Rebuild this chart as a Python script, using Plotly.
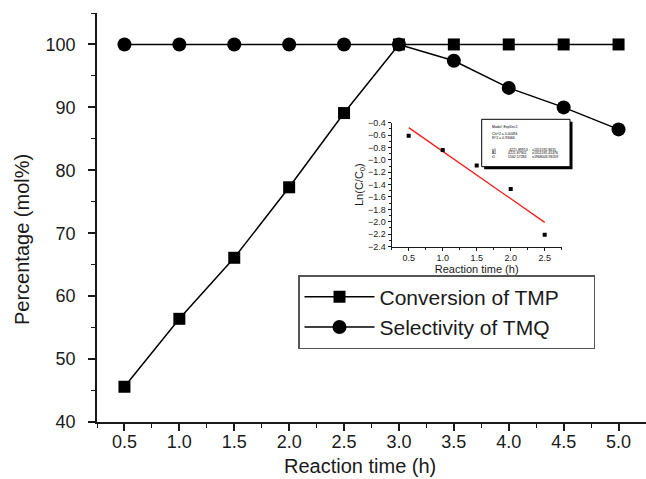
import plotly.graph_objects as go

# ---- main chart data ----
time_h = [0.5, 1.0, 1.5, 2.0, 2.5, 3.0, 3.5, 4.0, 4.5, 5.0]
conversion_tmp = [45.6, 56.4, 66.1, 77.3, 89.1, 100, 100, 100, 100, 100]
selectivity_tmq = [100, 100, 100, 100, 100, 100, 97.4, 93.1, 90.0, 86.5]
x_ticks = [0.5, 1.0, 1.5, 2.0, 2.5, 3.0, 3.5, 4.0, 4.5, 5.0]
x_tick_labels = ["0.5", "1.0", "1.5", "2.0", "2.5", "3.0", "3.5", "4.0", "4.5", "5.0"]
y_ticks = [40, 50, 60, 70, 80, 90, 100]
series_names = ["Conversion of TMP", "Selectivity of TMQ"]

# ---- inset data ----
inset_time = [0.5, 1.0, 1.5, 2.0, 2.5]
inset_ln = [-0.61, -0.84, -1.09, -1.47, -2.21]
fit_time = [0.5, 2.5]
fit_ln = [-0.48, -2.01]
inset_x_ticks = [0.5, 1.0, 1.5, 2.0, 2.5]
inset_y_ticks = [-2.4, -2.2, -2.0, -1.8, -1.6, -1.4, -1.2, -1.0, -0.8, -0.6, -0.4]

# stats box text lines
stats_lines = [
    ["Model: ExpDec1"],
    ["Chi^2 = 0.00494"],
    ["R^2 = 0.93066"],
    ["y0", "-4221.89913", "±1311592.8615"],
    ["A1", "4221.87902", "±1311592.45376"],
    ["t1", "5562.57284", "±1968003.96209"],
]

FONT = "Liberation Sans, Arial, Helvetica, sans-serif"
INK = "#1a1a1a"

W, H = 646, 479
L, R, T, B = 97, 0, 13, 57
PW = W - L - R
PH = H - T - B


def px_x(px):
    return (px - L) / PW


def px_y(py):
    return (H - B - py) / PH


PAD = "\u00a0" * 5

fig = go.Figure()

fig.add_trace(go.Scatter(
    x=time_h, y=conversion_tmp, mode="lines+markers", name=series_names[0] + PAD,
    line=dict(color="black", width=1.5),
    marker=dict(symbol="square", size=12, color="black"),
))
fig.add_trace(go.Scatter(
    x=time_h, y=selectivity_tmq, mode="lines+markers", name=series_names[1] + PAD,
    line=dict(color="black", width=1.5),
    marker=dict(symbol="circle", size=14, color="black"),
))

# inset
fig.add_trace(go.Scatter(
    x=fit_time, y=fit_ln, mode="lines", showlegend=False,
    line=dict(color="#ff1a1a", width=1.3), xaxis="x2", yaxis="y2",
))
fig.add_trace(go.Scatter(
    x=inset_time, y=inset_ln, mode="markers", showlegend=False,
    marker=dict(symbol="square", size=4, color="black"), xaxis="x2", yaxis="y2",
))


def axis_style(lw, tw):
    return dict(
        showgrid=False, zeroline=False, showline=True, linecolor=INK, linewidth=lw,
        ticks="outside", tickcolor=INK, tickwidth=tw, mirror=False,
    )


fig.update_layout(
    width=W, height=H,
    margin=dict(l=L, r=R, t=T, b=B, pad=0),
    paper_bgcolor="white", plot_bgcolor="rgba(0,0,0,0)",
    font=dict(family=FONT, color=INK),
    xaxis=dict(
        **axis_style(1.5, 1.5), range=[0.25, 5.25], tickvals=x_ticks, ticktext=x_tick_labels,
        ticklen=7, tickfont=dict(size=18), ticklabelstandoff=-4,
        minor=dict(dtick=0.25, tick0=0.25, ticklen=4, tickwidth=1.2, tickcolor=INK, ticks="outside"),
    ),
    yaxis=dict(
        **axis_style(1.5, 1.5), range=[40, 105], tickvals=y_ticks,
        ticklen=7, tickfont=dict(size=18), ticklabelstandoff=9,
        minor=dict(dtick=5, tick0=40, ticklen=4, tickwidth=1.2, tickcolor=INK, ticks="outside"),
    ),
    xaxis2=dict(
        **axis_style(1.2, 1), domain=[px_x(391.7), px_x(561.7)], anchor="y2",
        range=[0.25, 2.75], tickvals=inset_x_ticks, ticklen=3,
        tickfont=dict(size=9), tickformat=".1f",
        minor=dict(dtick=0.25, tick0=0.25, ticklen=2, tickwidth=1, tickcolor=INK, ticks="outside"),
        title=dict(text="Reaction time (h)", font=dict(size=11), standoff=1),
    ),
    yaxis2=dict(
        **axis_style(1.2, 1), domain=[px_y(246.5), px_y(122.7)], anchor="x2",
        range=[-2.4, -0.4], tickvals=inset_y_ticks, ticklen=3,
        tickformat=".1f", tickfont=dict(size=9),
        minor=dict(dtick=0.1, tick0=-2.4, ticklen=2, tickwidth=1, tickcolor=INK, ticks="outside"),
        title=dict(text="Ln(C/C<sub>0</sub>)", font=dict(size=11), standoff=2),
    ),
    legend=dict(
        x=px_x(298), y=px_y(275), xanchor="left", yanchor="top",
        bgcolor="white", bordercolor="#555", borderwidth=1.5,
        font=dict(size=21, color=INK), itemwidth=70,
        tracegroupgap=0,
    ),
    showlegend=True,
)

annotations = [
    dict(text="Reaction time (h)", x=px_x(360), y=px_y(466), xref="paper", yref="paper",
         showarrow=False, font=dict(size=20), xanchor="center", yanchor="middle"),
    dict(text="Percentage (mol%)", x=px_x(22), y=px_y(240), xref="paper", yref="paper",
         showarrow=False, font=dict(size=20), textangle=-90, xanchor="center", yanchor="middle"),
]

# stats box
bx0, bx1, by0, by1 = 481.7, 570.0, 119.3, 166.7
shapes = [
    dict(type="rect", xref="paper", yref="paper",
         x0=px_x(bx0 + 2.5), x1=px_x(bx1 + 2.5), y0=px_y(by1 + 2.5), y1=px_y(by0 + 2.5),
         fillcolor="black", line=dict(width=0)),
    dict(type="rect", xref="paper", yref="paper",
         x0=px_x(bx0), x1=px_x(bx1), y0=px_y(by1), y1=px_y(by0),
         fillcolor="white", line=dict(color="black", width=1)),
]
line_y = [127, 134.3, 137.7, 149.7, 153.3, 157]
col_x = [490, 506, 530]
for parts, ly in zip(stats_lines, line_y):
    for ci, txt in enumerate(parts):
        annotations.append(dict(
            text=txt, x=px_x(col_x[ci]), y=px_y(ly), xref="paper", yref="paper",
            showarrow=False, xanchor="left", yanchor="middle",
            font=dict(size=3.5, color="black", family=FONT),
        ))

fig.update_layout(annotations=annotations, shapes=shapes)

fig.write_html("out.html", config={"displayModeBar": False},
               post_script="document.body.style.margin='0px';")
